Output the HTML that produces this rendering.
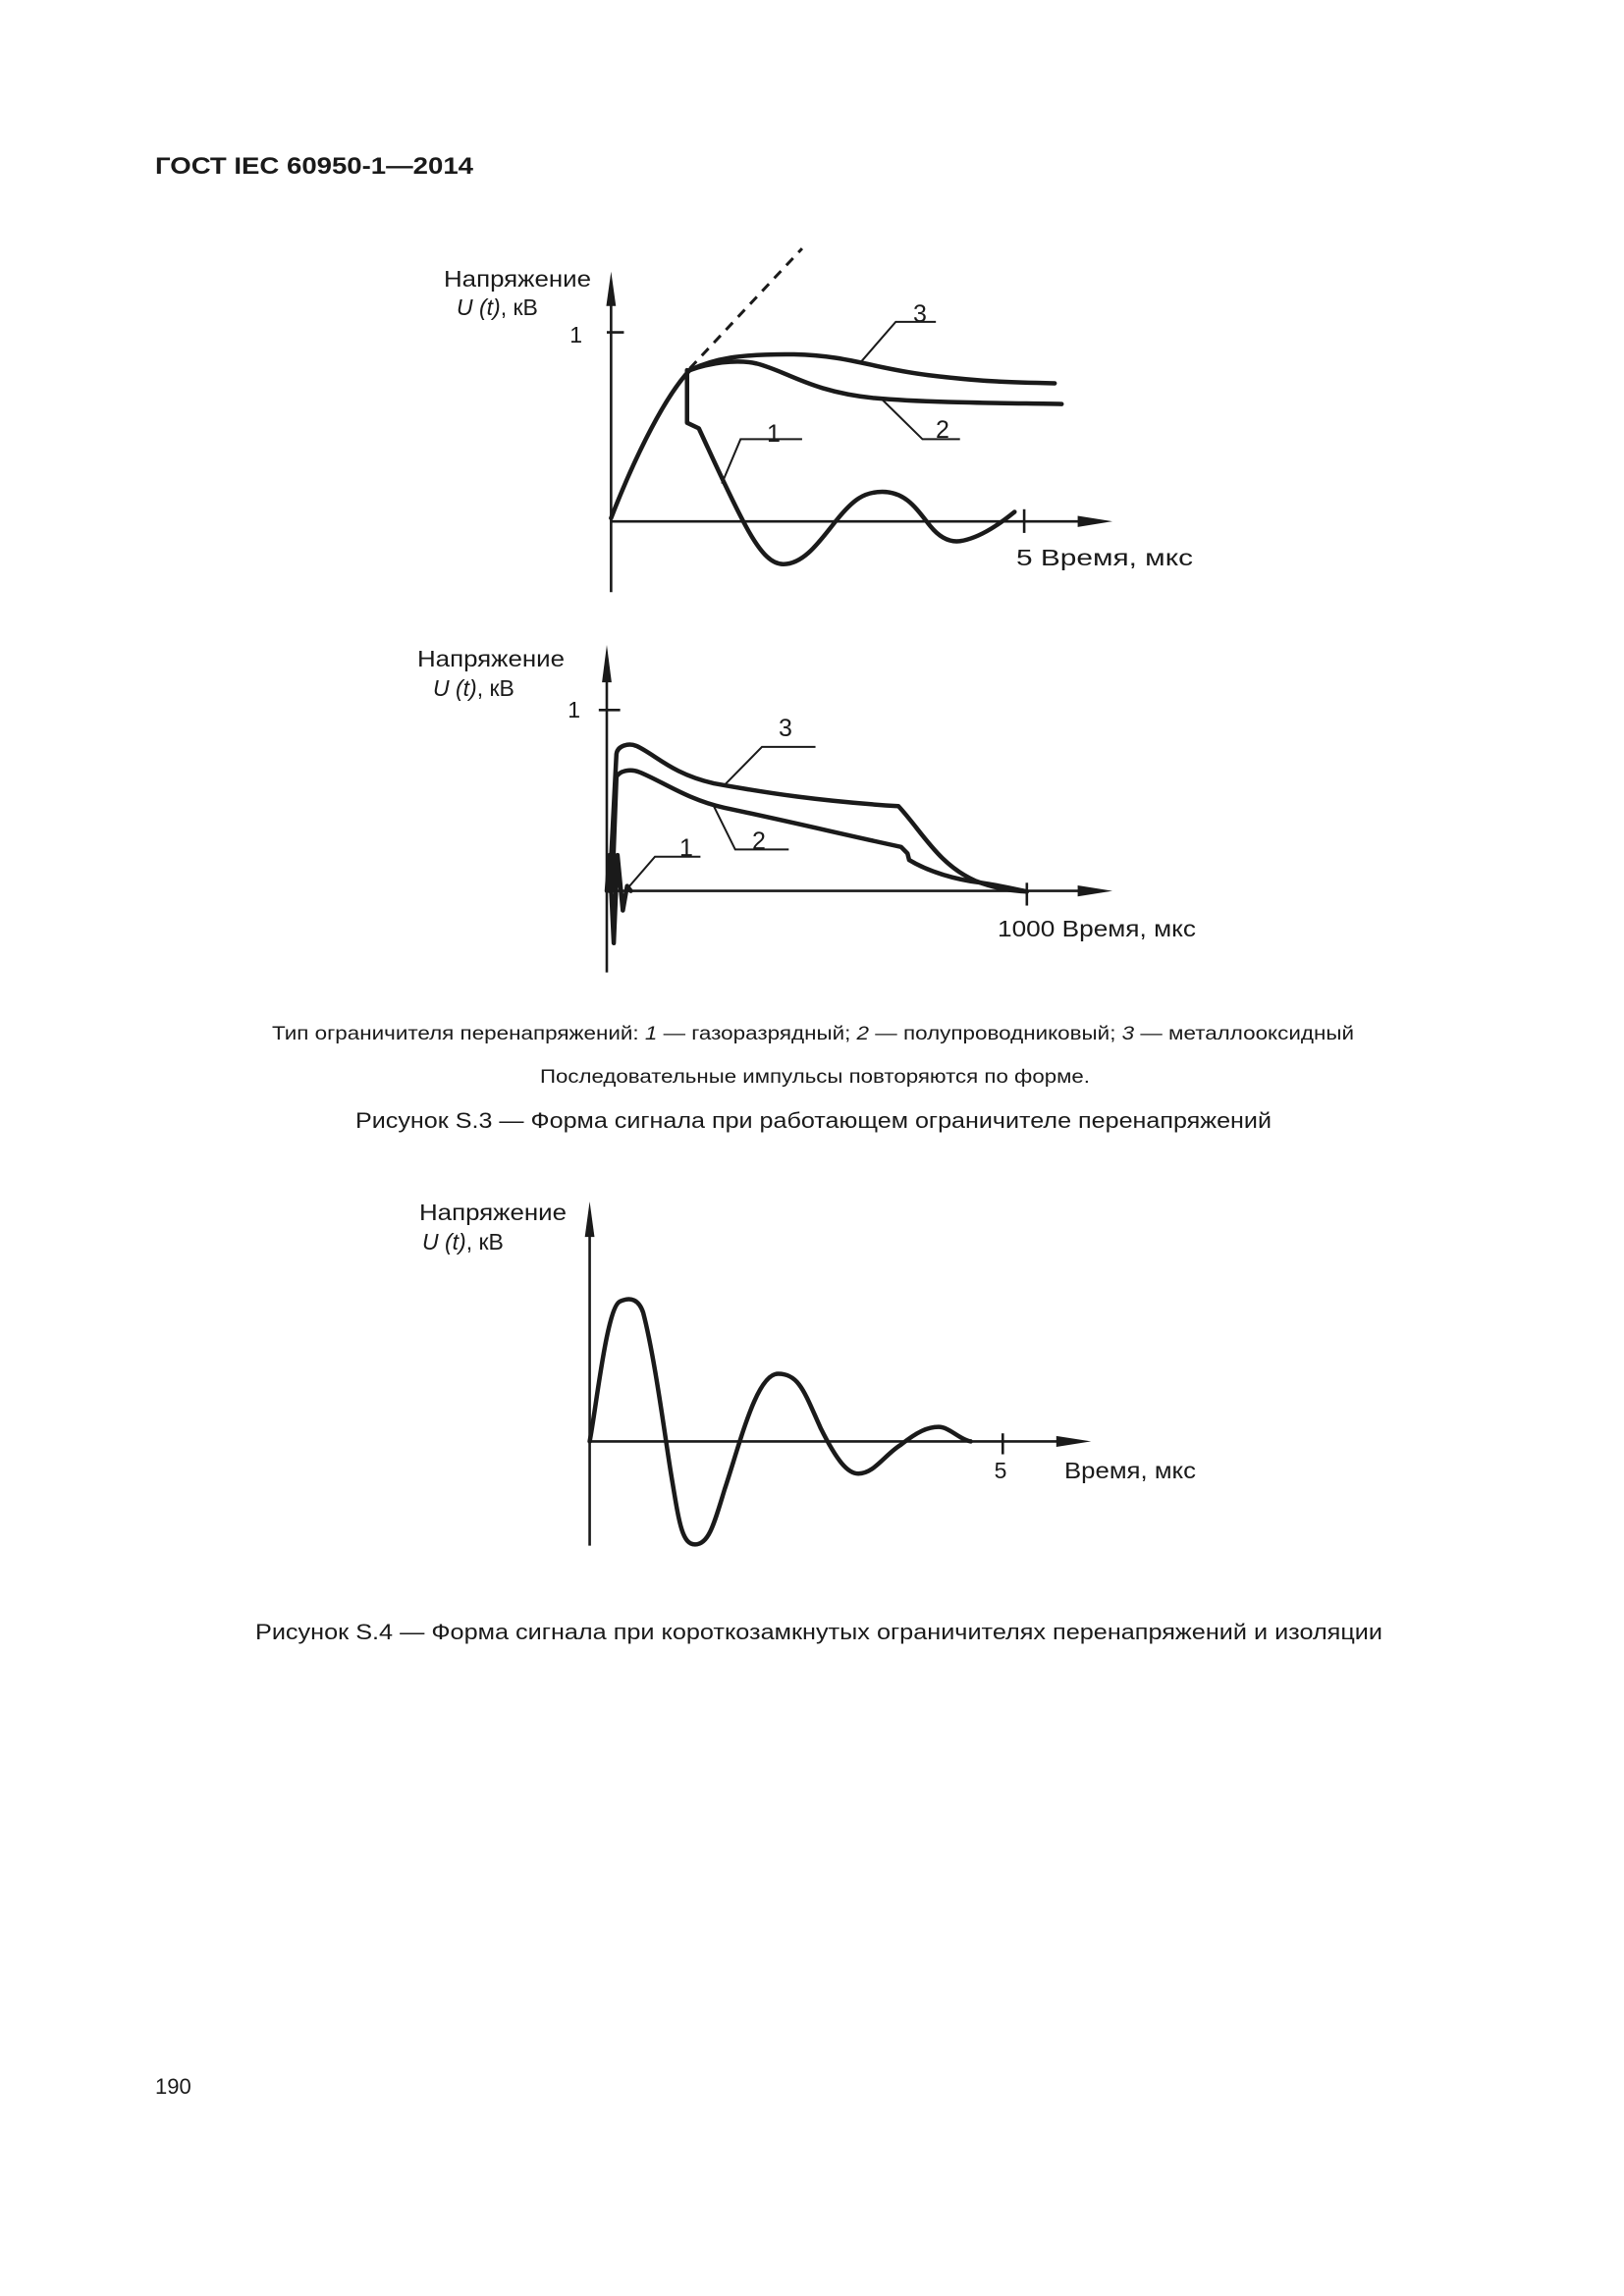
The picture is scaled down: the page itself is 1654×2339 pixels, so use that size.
<!DOCTYPE html>
<html><head><meta charset="utf-8"><style>
html,body{margin:0;padding:0;background:#fff;}
svg{display:block;}
text{font-family:"Liberation Sans",Arial,sans-serif;fill:#1a1a1a;}
.c{fill:none;stroke:#1a1a1a;stroke-width:4.5;vector-effect:non-scaling-stroke;stroke-linejoin:round;stroke-linecap:round;}
.a{fill:none;stroke:#1a1a1a;stroke-width:2.6;vector-effect:non-scaling-stroke;}
.l{fill:none;stroke:#1a1a1a;stroke-width:2;vector-effect:non-scaling-stroke;}
.d{fill:none;stroke:#1a1a1a;stroke-width:3;stroke-dasharray:10 8;vector-effect:non-scaling-stroke;}
.f{fill:#1a1a1a;stroke:none;}
</style></head><body>
<svg width="1654" height="2339" viewBox="0 0 1654 2339" xmlns="http://www.w3.org/2000/svg">
<text x="158" y="177" font-size="24" font-weight="bold" textLength="324" lengthAdjust="spacingAndGlyphs">ГОСТ IEC 60950-1—2014</text>

<!-- Chart 1 -->
<g transform="translate(400,228) scale(0.545,0.335)">
  <line class="a" x1="408" y1="1120" x2="408" y2="200"/>
  <polygon class="f" points="399,250 408,145 417,250"/>
  <line class="a" x1="408" y1="905" x2="1290" y2="905"/>
  <polygon class="f" points="1280,888 1345,905 1280,922"/>
  <line class="a" x1="400" y1="330" x2="432" y2="330"/>
  <line class="a" x1="1180" y1="868" x2="1180" y2="940"/>
  <line class="d" x1="555" y1="440" x2="765" y2="75"/>
  <path class="c" d="M408,895 C440,760 500,540 555,445"/>
  <path class="c" d="M555,445 C600,410 650,395 750,397 C850,400 900,440 1000,460 C1100,480 1150,482 1237,485"/>
  <path class="c" d="M555,445 C590,425 640,410 680,425 C740,450 780,510 900,530 C1000,545 1150,545 1250,548"/>
  <path class="c" d="M550,445 L550,605 L572,622 C600,720 630,830 660,920 C690,1010 710,1035 730,1035 C770,1035 800,960 830,900 C860,840 880,815 915,815 C960,815 980,870 1005,920 C1025,960 1045,968 1060,965 C1100,955 1140,905 1162,876"/>
  <polyline class="l" points="1015,298 940,298 875,420"/>
  <polyline class="l" points="1060,655 990,655 915,535"/>
  <polyline class="l" points="765,655 650,655 615,790"/>
</g>
<text x="452" y="292" font-size="23" textLength="150" lengthAdjust="spacingAndGlyphs">Напряжение</text>
<text x="465" y="321" font-size="23"><tspan font-style="italic">U (t)</tspan>,  кВ</text>
<text x="593" y="349" font-size="23" text-anchor="end">1</text>
<text x="1035" y="576" font-size="23" textLength="180" lengthAdjust="spacingAndGlyphs">5  Время,  мкс</text>
<text x="937" y="328" font-size="25" text-anchor="middle">3</text>
<text x="960" y="446" font-size="25" text-anchor="middle">2</text>
<text x="788" y="450" font-size="25" text-anchor="middle">1</text>

<!-- Chart 2 -->
<g transform="translate(400,642) scale(0.545,0.332)">
  <line class="a" x1="400" y1="1050" x2="400" y2="110"/>
  <polygon class="f" points="391,160 400,45 409,160"/>
  <line class="a" x1="400" y1="800" x2="1290" y2="800"/>
  <polygon class="f" points="1280,783 1345,800 1280,817"/>
  <line class="a" x1="385" y1="245" x2="425" y2="245"/>
  <line class="a" x1="1185" y1="775" x2="1185" y2="845"/>
  <path class="c" d="M405,800 L418,380 C420,355 440,345 455,355 C490,380 520,440 600,470 C700,500 800,525 945,540 C990,620 1020,720 1090,770 C1130,795 1160,800 1185,802"/>
  <path class="c" d="M410,800 L418,450 C425,430 445,425 460,435 C500,460 550,520 620,545 C750,590 850,630 950,665 L962,685 L965,705 C1000,740 1050,765 1100,775 C1140,785 1165,795 1185,802"/>
  <path class="c" d="M400,800 L405,690 L413,960 L420,690 L430,860 L438,785 L445,800"/>
  <polyline class="l" points="790,358 690,358 620,475"/>
  <polyline class="l" points="740,673 640,673 600,540"/>
  <polyline class="l" points="575,695 490,695 440,790"/>
</g>
<text x="425" y="679" font-size="23" textLength="150" lengthAdjust="spacingAndGlyphs">Напряжение</text>
<text x="441" y="709" font-size="23"><tspan font-style="italic">U (t)</tspan>,   кВ</text>
<text x="591" y="731" font-size="23" text-anchor="end">1</text>
<text x="1016" y="954" font-size="23" textLength="202" lengthAdjust="spacingAndGlyphs">1000 Время, мкс</text>
<text x="800" y="750" font-size="25" text-anchor="middle">3</text>
<text x="773" y="865" font-size="25" text-anchor="middle">2</text>
<text x="699" y="872" font-size="25" text-anchor="middle">1</text>

<!-- Captions -->
<text x="277" y="1059" font-size="19" textLength="1102" lengthAdjust="spacingAndGlyphs">Тип ограничителя перенапряжений: <tspan font-style="italic">1</tspan> — газоразрядный; <tspan font-style="italic">2</tspan> — полупроводниковый; <tspan font-style="italic">3</tspan> — металлооксидный</text>
<text x="550" y="1103" font-size="19" textLength="560" lengthAdjust="spacingAndGlyphs">Последовательные импульсы повторяются по форме.</text>
<text x="362" y="1149" font-size="22" textLength="933" lengthAdjust="spacingAndGlyphs">Рисунок S.3 — Форма сигнала при работающем ограничителе перенапряжений</text>

<!-- Chart 3 -->
<g transform="translate(400,1206) scale(0.545,0.328)">
  <line class="a" x1="368" y1="1124" x2="368" y2="120"/>
  <polygon class="f" points="359,165 368,55 377,165"/>
  <line class="a" x1="368" y1="800" x2="1250" y2="800"/>
  <polygon class="f" points="1240,783 1305,800 1240,817"/>
  <line class="a" x1="1140" y1="775" x2="1140" y2="840"/>
  <path class="c" d="M368,800 C380,700 400,380 425,365 C445,350 460,360 468,400 C490,540 510,800 520,900 C535,1050 540,1120 565,1120 C590,1120 600,1060 620,950 C650,800 680,590 720,590 C760,590 770,650 800,760 C830,860 850,900 870,900 C900,900 920,840 950,810 C980,770 1000,755 1020,755 C1040,755 1060,795 1080,800"/>
</g>
<text x="427" y="1243" font-size="23" textLength="150" lengthAdjust="spacingAndGlyphs">Напряжение</text>
<text x="430" y="1273" font-size="23"><tspan font-style="italic">U (t)</tspan>,  кВ</text>
<text x="1019" y="1506" font-size="23" text-anchor="middle">5</text>
<text x="1084" y="1506" font-size="23" textLength="134" lengthAdjust="spacingAndGlyphs">Время, мкс</text>

<text x="260" y="1670" font-size="22" textLength="1148" lengthAdjust="spacingAndGlyphs">Рисунок S.4 — Форма сигнала при короткозамкнутых ограничителях перенапряжений и изоляции</text>
<text x="158" y="2133" font-size="22">190</text>
</svg>
</body></html>
